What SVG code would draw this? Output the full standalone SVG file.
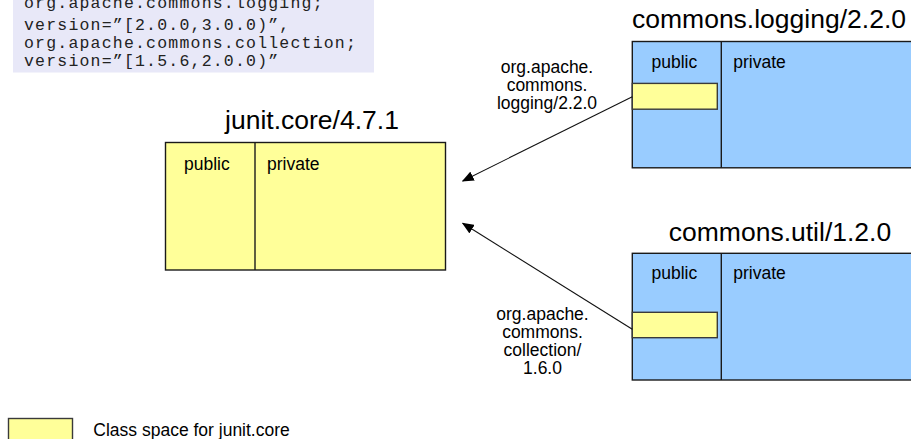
<svg xmlns="http://www.w3.org/2000/svg" width="911" height="439" viewBox="0 0 911 439">
  <style>
    .sans { font-family: "Liberation Sans", Arial, sans-serif; fill: #000; }
    .title { font-size: 26.5px; text-anchor: middle; }
    .small { font-size: 17.5px; }
    .mid { text-anchor: middle; }
    .mono { font-family: "Liberation Mono", "Courier New", monospace; font-size: 16.5px; letter-spacing: 1.2px; fill: #222; }
    .yellow { fill: #ffff99; stroke: #1a1a1a; stroke-width: 1.4; }
    .blue { fill: #99ccff; stroke: #1a1a1a; stroke-width: 1.4; }
    .slot { fill: #ffff99; stroke: #3a3a3a; stroke-width: 1.4; }
    .divider { stroke: #1a1a1a; stroke-width: 1.4; fill: none; }
    .edge { stroke: #111; stroke-width: 1.1; fill: none; marker-end: url(#head); }
  </style>
  <defs>
    <marker id="head" viewBox="0 0 12 10" refX="11" refY="5" markerWidth="12" markerHeight="10" markerUnits="userSpaceOnUse" orient="auto">
      <path d="M0,0 L12,5 L0,10 Z" fill="#000"/>
    </marker>
  </defs>

  <rect width="911" height="439" fill="#ffffff"/>

  <!-- Import-Package header -->
  <g id="import-header">
    <rect x="13" y="-20" width="361" height="92.5" fill="#e8e8f8"/>
    <text class="mono"><tspan x="24" y="8">org.apache.commons.logging;</tspan><tspan x="24" y="30">version=”[2.0.0,3.0.0)”,</tspan><tspan x="24" y="48">org.apache.commons.collection;</tspan><tspan x="24" y="66">version=”[1.5.6,2.0.0)”</tspan></text>
  </g>

  <!-- junit.core bundle -->
  <g id="junit-core">
    <text class="sans title" x="312" y="128.5">junit.core/4.7.1</text>
    <rect class="yellow" x="165.5" y="142.5" width="280" height="127.5"/>
    <line class="divider" x1="255" y1="142.5" x2="255" y2="270"/>
    <text class="sans small" x="184" y="170">public</text>
    <text class="sans small" x="267" y="170">private</text>
  </g>

  <!-- commons.logging bundle -->
  <g id="commons-logging">
    <text class="sans title" x="769" y="28">commons.logging/2.2.0</text>
    <rect class="blue" x="632.3" y="41.5" width="300" height="126.3"/>
    <line class="divider" x1="721.3" y1="41.5" x2="721.3" y2="167.8"/>
    <text class="sans small" x="651.5" y="67.5">public</text>
    <text class="sans small" x="733.3" y="67.5">private</text>
    <rect class="slot" x="632.3" y="83.4" width="85" height="25.8"/>
  </g>

  <!-- commons.util bundle -->
  <g id="commons-util">
    <text class="sans title" x="780" y="241">commons.util/1.2.0</text>
    <rect class="blue" x="632.3" y="253.3" width="300" height="126.7"/>
    <line class="divider" x1="721.3" y1="253.3" x2="721.3" y2="380"/>
    <text class="sans small" x="651.5" y="279">public</text>
    <text class="sans small" x="733.3" y="279">private</text>
    <rect class="slot" x="632.3" y="312.3" width="85" height="25.4"/>
  </g>

  <!-- package wiring -->
  <g id="connectors">
    <line class="edge" x1="632.3" y1="96.7" x2="462.7" y2="181"/>
    <line class="edge" x1="632.3" y1="329.3" x2="462.7" y2="223.3"/>
    <text class="sans small mid"><tspan x="547" y="73">org.apache.</tspan><tspan x="547" y="91">commons.</tspan><tspan x="547" y="109">logging/2.2.0</tspan></text>
    <text class="sans small mid"><tspan x="542.5" y="320">org.apache.</tspan><tspan x="542.5" y="338">commons.</tspan><tspan x="542.5" y="356">collection/</tspan><tspan x="542.5" y="374">1.6.0</tspan></text>
  </g>

  <!-- legend -->
  <g id="legend">
    <rect class="slot" x="8.5" y="418.5" width="64" height="30"/>
    <text class="sans small" x="93.3" y="435.5">Class space for junit.core</text>
  </g>
</svg>
